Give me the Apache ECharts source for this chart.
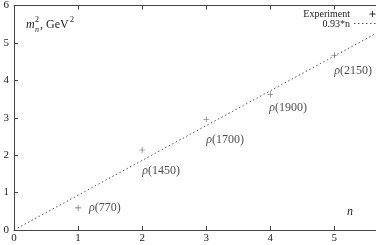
<!DOCTYPE html>
<html><head><meta charset="utf-8">
<script src="https://cdn.jsdelivr.net/npm/echarts@6/dist/echarts.min.js"></script>
<style>html,body{margin:0;padding:0;background:#fff}#c{width:376px;height:245px}</style>
</head><body><div id="c"></div>
<script>
var nValues = [1, 2, 3, 4, 5];
var massSq = [0.59, 2.14, 2.96, 3.63, 4.67];
var stateNames = ['770', '1450', '1700', '1900', '2150'];
var fitLine = [[0, 0], [5.65, 5.2545]];
var xTicks = [0, 1, 2, 3, 4, 5];
var yTicks = [0, 1, 2, 3, 4, 5, 6];

var labelOffsets = [[11, 0], [0, 21], [0, 21], [-1, 14], [0, 16]];
var serif = '"Liberation Serif", "DejaVu Serif", serif';
var plus = 'path://M4.5,0h1v10h-1z M0,4.5h10v1h-10z';

var scatterData = nValues.map(function (n, i) {
  return {
    value: [n, massSq[i]],
    label: {
      show: true, position: 'inside', align: 'left', verticalAlign: 'middle',
      offset: labelOffsets[i],
      formatter: '{g|ρ}(' + stateNames[i] + ')',
      fontFamily: serif, fontSize: 12, color: '#222',
      rich: { g: { fontFamily: serif, fontStyle: 'italic', fontSize: 12, color: '#222' } }
    }
  };
});

var chart = echarts.init(document.getElementById('c'), null, {renderer: 'canvas'});
var axisLine = { show: true, lineStyle: { color: '#444', width: 1 } };
chart.setOption({
  animation: false,
  grid: { left: 14, right: 0, top: 4, bottom: 15, containLabel: false },
  xAxis: [{
    type: 'value', min: 0, max: 5.65, interval: 1, position: 'bottom',
    axisLine: axisLine,
    axisTick: { show: true, inside: true, length: 4, lineStyle: { color: '#444' } },
    axisLabel: { fontFamily: serif, fontSize: 11, color: '#222', margin: 3,
      showMaxLabel: false,
      formatter: function (v) { return xTicks.indexOf(v) >= 0 ? String(v) : ''; } },
    splitLine: { show: false }
  }, {
    type: 'value', min: 0, max: 5.65, interval: 1, position: 'top',
    axisLine: axisLine,
    axisTick: { show: true, inside: true, length: 4, lineStyle: { color: '#444' } },
    axisLabel: { show: false }, splitLine: { show: false }
  }],
  yAxis: {
    type: 'value', min: 0, max: 6, interval: 1,
    axisLine: axisLine,
    axisTick: { show: true, inside: true, length: 4, lineStyle: { color: '#444' } },
    axisLabel: { fontFamily: serif, fontSize: 11, color: '#222', margin: 5,
      formatter: function (v) { return yTicks.indexOf(v) >= 0 ? String(v) : ''; } },
    splitLine: { show: false }
  },
  series: [{
    name: 'Experiment', type: 'scatter', symbol: plus, symbolSize: 6,
    itemStyle: { color: '#333' },
    data: scatterData, z: 3
  }, {
    name: '0.93*n', type: 'line', data: fitLine, symbol: 'none',
    lineStyle: { color: '#555', width: 1, type: [1.5, 2.5] },
    itemStyle: { color: '#555' }, z: 2
  }],
  graphic: [
    { type: 'text', left: 26, top: 19, style: { text: 'm', fontFamily: serif, fontStyle: 'italic', fontSize: 12, fill: '#222' } },
    { type: 'text', left: 35, top: 26, style: { text: 'n', fontFamily: serif, fontStyle: 'italic', fontSize: 8, fill: '#222' } },
    { type: 'text', left: 35, top: 16, style: { text: '2', fontFamily: serif, fontSize: 8, fill: '#222' } },
    { type: 'text', left: 40, top: 19, style: { text: ', GeV', fontFamily: serif, fontSize: 12, fill: '#222' } },
    { type: 'text', left: 70, top: 16, style: { text: '2', fontFamily: serif, fontSize: 8, fill: '#222' } },
    { type: 'text', left: 347, top: 206, style: { text: 'n', fontFamily: serif, fontStyle: 'italic', fontSize: 12, fill: '#222' } },
    { type: 'text', right: 26, top: 9, style: { text: 'Experiment', fontFamily: serif, fontSize: 10, fill: '#222' } },
    { type: 'text', right: 26, top: 19, style: { text: '0.93*n', fontFamily: serif, fontSize: 10, fill: '#222' } },
    { type: 'line', shape: { x1: 372.5, y1: 11, x2: 372.5, y2: 17 }, style: { stroke: '#333', lineWidth: 1 } },
    { type: 'line', shape: { x1: 369.5, y1: 14, x2: 375.5, y2: 14 }, style: { stroke: '#333', lineWidth: 1 } },
    { type: 'line', shape: { x1: 354, y1: 23.5, x2: 376, y2: 23.5 }, style: { stroke: '#555', lineWidth: 1, lineDash: [1.5, 2.5] } }
  ]
});
</script></body></html>
